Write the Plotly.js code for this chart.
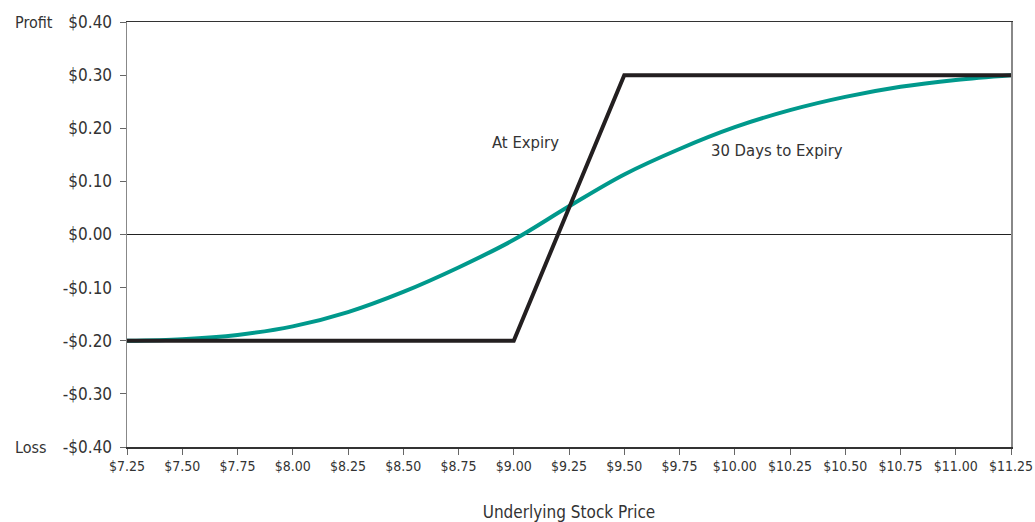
<!DOCTYPE html>
<html>
<head>
<meta charset="utf-8">
<script src="https://cdn.plot.ly/plotly-3.0.1.min.js"></script>
<style>html,body{margin:0;padding:0;background:#fff;}#chart{width:1035px;height:522px;}</style>
</head>
<body>
<div id="chart"></div>
<script>
// Underlying stock price (x) values
const prices = [7.25, 7.50, 7.75, 8.00, 8.25, 8.50, 8.75, 9.00, 9.25, 9.50, 9.75, 10.00, 10.25, 10.50, 10.75, 11.00, 11.25];
// 30 days to expiry profit curve
const profit30Days = [-0.200, -0.197, -0.189, -0.173, -0.146, -0.108, -0.062, -0.010, 0.053, 0.113, 0.161, 0.202, 0.234, 0.259, 0.278, 0.291, 0.300];
// At expiry payoff (vertices)
const expiryPrices = [7.25, 9.00, 9.50, 11.25];
const expiryProfit = [-0.20, -0.20, 0.30, 0.30];
// Axis ticks
const xTickVals = [7.25, 7.50, 7.75, 8.00, 8.25, 8.50, 8.75, 9.00, 9.25, 9.50, 9.75, 10.00, 10.25, 10.50, 10.75, 11.00, 11.25];
const xTickText = ["$7.25","$7.50","$7.75","$8.00","$8.25","$8.50","$8.75","$9.00","$9.25","$9.50","$9.75","$10.00","$10.25","$10.50","$10.75","$11.00","$11.25"];
const yTickVals = [0.40, 0.30, 0.20, 0.10, 0.00, -0.10, -0.20, -0.30, -0.40];
const yTickText = ["$0.40","$0.30","$0.20","$0.10","$0.00","-$0.10","-$0.20","-$0.30","-$0.40"];

const FONT = "DejaVu Sans Condensed, Roboto, sans-serif";
const TXT = "#333333";

const traces = [
  {x: prices, y: profit30Days, type: "scatter", mode: "lines", line: {color: "#00998c", width: 4, shape: "spline", smoothing: 1}, hoverinfo: "skip"},
  {x: expiryPrices, y: expiryProfit, type: "scatter", mode: "lines", line: {color: "#231f20", width: 4}, hoverinfo: "skip"}
];

const layout = {
  width: 1035, height: 522,
  margin: {l: 127, r: 24, t: 22, b: 75},
  paper_bgcolor: "#fff", plot_bgcolor: "#fff",
  showlegend: false,
  font: {family: FONT, color: TXT, size: 16},
  xaxis: {
    range: [7.25, 11.25], tickvals: xTickVals, ticktext: xTickText,
    showgrid: false, zeroline: false,
    showline: true, linecolor: "#333", linewidth: 1.5, mirror: true,
    ticks: "outside", ticklen: 6, tickcolor: "#666", tickwidth: 1,
    tickfont: {family: FONT, size: 14, color: TXT},
    title: {text: "Underlying Stock Price", font: {family: FONT, size: 17, color: TXT}, standoff: 36}
  },
  yaxis: {
    range: [-0.40, 0.40], tickvals: yTickVals, ticktext: yTickText,
    showgrid: false, zeroline: true, zerolinecolor: "#222", zerolinewidth: 1,
    showline: true, linecolor: "#888", linewidth: 1.5, mirror: true,
    ticks: "outside", ticklen: 6, tickcolor: "#666", tickwidth: 1,
    ticklabelstandoff: 4,
    tickfont: {family: FONT, size: 17, color: TXT}
  },
  annotations: [
    {xref: "paper", yref: "y", x: -0.129, y: 0.40, text: "Profit", showarrow: false, xanchor: "left", font: {family: FONT, size: 16, color: TXT}},
    {xref: "paper", yref: "y", x: -0.129, y: -0.40, text: "Loss", showarrow: false, xanchor: "left", font: {family: FONT, size: 16, color: TXT}},
    {xref: "x", yref: "y", x: 9.055, y: 0.173, text: "At Expiry", showarrow: false, font: {family: FONT, size: 16.5, color: TXT}},
    {xref: "x", yref: "y", x: 10.19, y: 0.158, text: "30 Days to Expiry", showarrow: false, font: {family: FONT, size: 16.5, color: TXT}}
  ]
};

Plotly.newPlot("chart", traces, layout, {displayModeBar: false, staticPlot: true});
</script>
</body>
</html>
